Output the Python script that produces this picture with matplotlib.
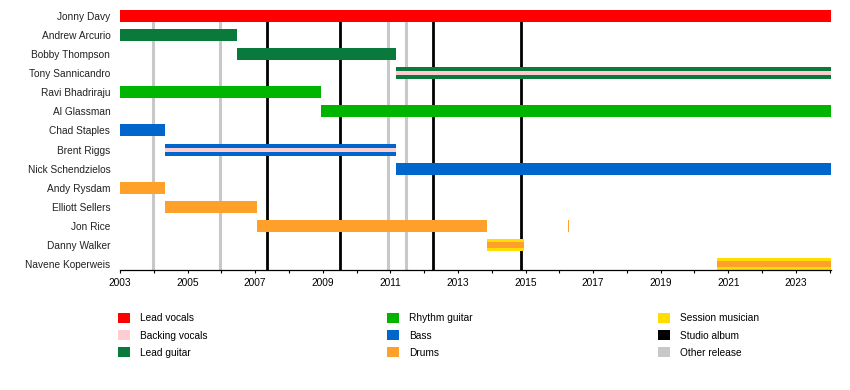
import numpy as np
import matplotlib
matplotlib.use('Agg')
from matplotlib import pyplot as plt
from matplotlib.patches import Patch

plt.rcParams['font.family'] = ['Liberation Sans', 'DejaVu Sans']

END = 2024.04

members = ['Jonny Davy', 'Andrew Arcurio', 'Bobby Thompson', 'Tony Sannicandro',
           'Ravi Bhadriraju', 'Al Glassman', 'Chad Staples', 'Brent Riggs',
           'Nick Schendzielos', 'Andy Rysdam', 'Elliott Sellers', 'Jon Rice',
           'Danny Walker', 'Navene Koperweis']

# main bars
seg_member = ['Jonny Davy', 'Andrew Arcurio', 'Bobby Thompson', 'Tony Sannicandro',
              'Ravi Bhadriraju', 'Al Glassman', 'Chad Staples', 'Brent Riggs',
              'Nick Schendzielos', 'Andy Rysdam', 'Elliott Sellers', 'Jon Rice',
              'Jon Rice', 'Danny Walker', 'Navene Koperweis']
seg_role = ['Lead vocals', 'Lead guitar', 'Lead guitar', 'Lead guitar',
            'Rhythm guitar', 'Rhythm guitar', 'Bass', 'Bass',
            'Bass', 'Drums', 'Drums', 'Drums',
            'Drums', 'Session musician', 'Session musician']
seg_start = [2003.0, 2003.0, 2006.46, 2011.18,
             2003.0, 2008.94, 2003.0, 2004.32,
             2011.18, 2003.0, 2004.32, 2007.04,
             2016.25, 2013.85, 2020.68]
seg_end = [END, 2006.46, 2011.18, END,
           2008.94, END, 2004.32, 2011.18,
           END, 2004.32, 2007.04, 2013.85,
           2016.28, 2014.95, END]

# thinner stripes drawn on top
stripe_member = ['Tony Sannicandro', 'Brent Riggs', 'Danny Walker', 'Navene Koperweis']
stripe_role = ['Backing vocals', 'Backing vocals', 'Drums', 'Drums']
stripe_start = [2011.18, 2004.32, 2013.85, 2020.68]
stripe_end = [END, 2011.18, 2014.95, END]
stripe_height = [0.21, 0.21, 0.3, 0.3]

studio_albums = [2007.36, 2009.51, 2012.27, 2014.86]
other_releases = [2003.99, 2005.95, 2010.92, 2011.45]

role_colors = {
    'Lead vocals': '#ff0000',
    'Backing vocals': '#ffccd2',
    'Lead guitar': '#0a7a3c',
    'Rhythm guitar': '#00b400',
    'Bass': '#0066cc',
    'Drums': '#ffa02a',
    'Session musician': '#ffdd00',
    'Studio album': '#000000',
    'Other release': '#c8c8c8',
}

legend_cols = [['Lead vocals', 'Backing vocals', 'Lead guitar'],
               ['Rhythm guitar', 'Bass', 'Drums'],
               ['Session musician', 'Studio album', 'Other release']]

fig = plt.figure(figsize=(8.5, 3.9), dpi=100)
ax = fig.add_axes([120 / 850, 1 - 270 / 390, 711 / 850, 263 / 390])

row = {m: i for i, m in enumerate(members)}
bar_h = 0.63

# release lines behind the bars
ax.vlines(other_releases, 13.4, -0.3, color=role_colors['Other release'], lw=2.2, zorder=1)
ax.vlines(studio_albums, 13.4, -0.3, color=role_colors['Studio album'], lw=2.0, zorder=1)

ys = [row[m] for m in seg_member]
widths = np.array(seg_end) - np.array(seg_start)
ax.barh(ys, widths, left=seg_start, height=bar_h,
        color=[role_colors[r] for r in seg_role], linewidth=0, zorder=2)

ys = [row[m] for m in stripe_member]
widths = np.array(stripe_end) - np.array(stripe_start)
ax.barh(ys, widths, left=stripe_start, height=stripe_height,
        color=[role_colors[r] for r in stripe_role], linewidth=0, zorder=3)

ax.set_xlim(2003, END)
ax.set_ylim(13.31, -0.47)
ax.set_yticks(range(len(members)))
ax.set_yticklabels(members)
ax.set_xticks(np.arange(2003, 2024, 2))
ax.set_xticks(np.arange(2003, 2025, 1), minor=True)
ax.tick_params(axis='y', length=0, pad=7, labelsize=7.3, colors='#222222')
ax.tick_params(axis='x', which='both', length=2.5, width=0.8, pad=3.5, labelsize=7.3)

for s in ['top', 'right', 'left']:
    ax.spines[s].set_visible(False)
ax.spines['bottom'].set_linewidth(0.9)

col_x = [118, 387, 658]
for x, labels in zip(col_x, legend_cols):
    handles = [Patch(facecolor=role_colors[l], edgecolor='none', label=l) for l in labels]
    fig.legend(handles=handles, loc='upper left', bbox_to_anchor=(x / 850, 1 - 313 / 390),
               frameon=False, fontsize=7.3, handlelength=1.15, handleheight=1.15,
               handletextpad=1.05, labelspacing=0.66, borderpad=0, borderaxespad=0)

fig.savefig('out.png', dpi=100)
